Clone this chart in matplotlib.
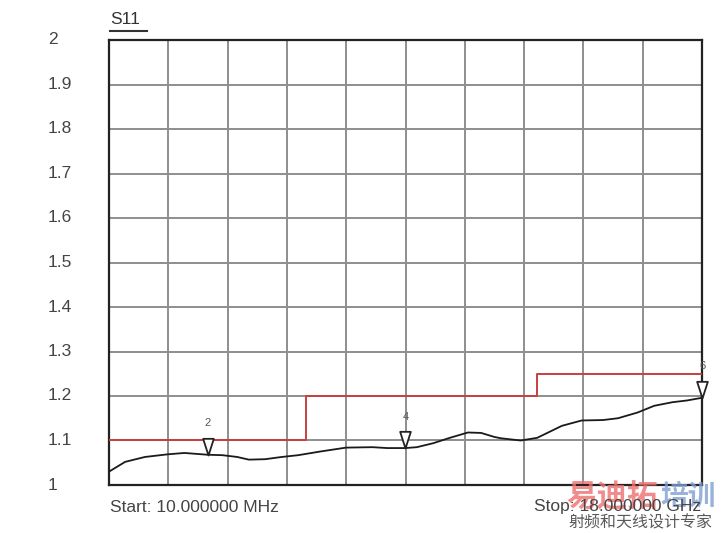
import numpy as np
import matplotlib
matplotlib.use("Agg")
import matplotlib.pyplot as plt
from matplotlib.path import Path

# ---- data ----
freq_ghz = [0.01, 0.5, 1.1, 1.8, 2.3, 3.0, 3.45, 3.9, 4.25, 4.75, 5.25, 5.75,
            6.4, 7.2, 8.0, 8.45, 9.0, 9.35, 9.85, 10.35, 10.9, 11.3, 11.7, 11.9,
            12.5, 13.0, 13.75, 14.35, 15.0, 15.45, 16.05, 16.55, 17.1, 17.55, 18.0]
s11_vswr = [1.030, 1.052, 1.063, 1.069, 1.072, 1.068, 1.067, 1.063, 1.057, 1.058,
            1.063, 1.067, 1.075, 1.084, 1.085, 1.083, 1.083, 1.085, 1.094, 1.106,
            1.118, 1.117, 1.108, 1.105, 1.100, 1.106, 1.133, 1.145, 1.146, 1.150,
            1.163, 1.178, 1.186, 1.190, 1.196]

limit_freq = [0.01, 6.0, 6.0, 13.0, 13.0, 18.0]
limit_vals = [1.10, 1.10, 1.20, 1.20, 1.25, 1.25]

marker_freq = [3.0, 9.0, 18.0]
marker_labels = ["2", "4", "6"]

y_ticks = [1, 1.1, 1.2, 1.3, 1.4, 1.5, 1.6, 1.7, 1.8, 1.9, 2]
y_tick_labels = ["1", "1.1", "1.2", "1.3", "1.4", "1.5", "1.6", "1.7", "1.8", "1.9", "2"]

plt.rcParams["font.family"] = ["Liberation Sans", "DejaVu Sans"]

# ---- figure ----
fig = plt.figure(figsize=(7.22, 5.33), dpi=100)
ax = fig.add_axes([109/722, 1 - 485/533, (702 - 109)/722, (485 - 40)/533])

f0, f1 = 0.01, 18.0
ax.set_xlim(f0, f1)
ax.set_ylim(1, 2)

# grid
xg = np.linspace(f0, f1, 11)
ax.set_xticks(xg)
ax.set_yticks(y_ticks)
ax.grid(True, color="#8e8e8e", linewidth=1.4)
ax.set_axisbelow(True)
ax.tick_params(length=0, labelbottom=False, labelleft=False)
for s in ax.spines.values():
    s.set_color("#222222")
    s.set_linewidth(1.6)

# y tick labels (left aligned in original)
for v, lab in zip(y_ticks, y_tick_labels):
    fig.text(48/722, 1 - (485 - (v - 1) * 445)/533, lab, ha="left", va="center",
             fontsize=12.5, color="#444444")

# limit line
ax.plot(limit_freq, limit_vals, color="#c8403f", linewidth=1.4, zorder=3)

# trace
ax.plot(freq_ghz, s11_vswr, color="#1a1a1a", linewidth=1.3, zorder=4)

# markers: downward triangle with tip at the data point
tri = Path([(-0.32, 1.0), (0.32, 1.0), (0.0, 0.0), (-0.32, 1.0)],
           [Path.MOVETO, Path.LINETO, Path.LINETO, Path.CLOSEPOLY])
for mf, ml in zip(marker_freq, marker_labels):
    mv = float(np.interp(mf, freq_ghz, s11_vswr))
    ax.plot([mf], [mv], marker=tri, markersize=24, markerfacecolor="white",
            markeredgecolor="#222222", markeredgewidth=1.3, linestyle="none",
            zorder=6, clip_on=False)
    ax.annotate(ml, (mf, mv), xytext=(0, 19), textcoords="offset points",
                ha="center", va="bottom", fontsize=8, color="#555555")

# title S11 with underline
fig.text(110/722, 1 - 19/533, "S11", ha="left", va="center", fontsize=12.5,
         color="#333333")
fig.add_artist(plt.Line2D([110/722, 147/722], [1 - 31/533, 1 - 31/533],
                          color="#333333", linewidth=1.5))

# watermark (beneath the stop text)
cjk = ["Noto Sans CJK SC", "DejaVu Sans"]
fig.text(566/722, 1 - 497/533, "易迪拓", ha="left", va="center", fontsize=22,
         color="#ee7070", alpha=0.8, family=cjk, fontweight="bold", zorder=1)
fig.text(660/722, 1 - 497/533, "培训", ha="left", va="center", fontsize=20,
         color="#7f9fd4", alpha=0.8, family=cjk, fontweight="bold", zorder=1)
fig.text(568/722, 1 - 523/533, "射频和天线设计专家", ha="left", va="center",
         fontsize=11.5, color="#5a5a5a", family=cjk, zorder=1)

# start / stop text
fig.text(110/722, 1 - 507/533, "Start: 10.000000 MHz", ha="left", va="center",
         fontsize=12.5, color="#444444", zorder=3)
fig.text(701/722, 1 - 507/533, "Stop: 18.000000 GHz", ha="right", va="center",
         fontsize=12.5, color="#444444", zorder=3)

fig.savefig("out.png", dpi=100)
